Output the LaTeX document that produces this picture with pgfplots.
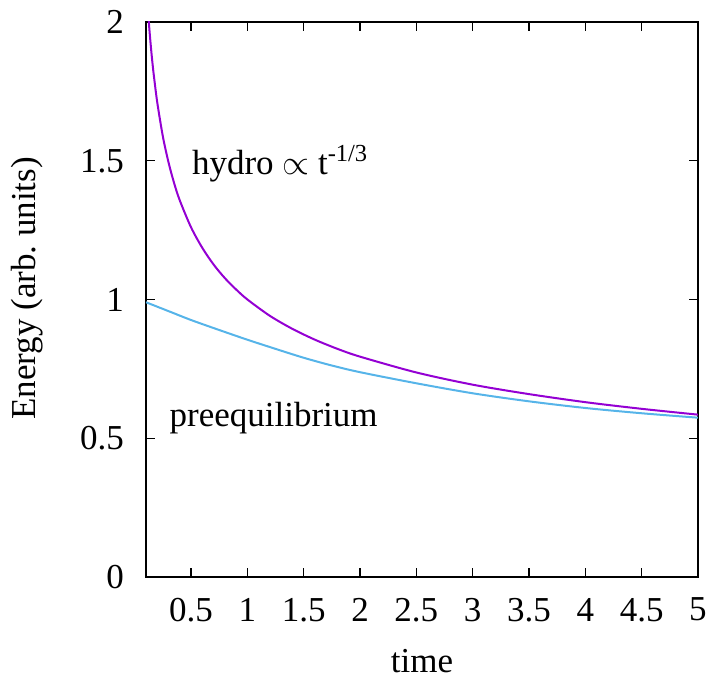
\documentclass[border=0pt]{standalone}
\usepackage{fontspec}
\setmainfont{Liberation Serif}
\usepackage{pgfplots}
\pgfplotsset{compat=1.18}
\definecolor{hydro}{RGB}{148,0,211}
\definecolor{pre}{RGB}{86,180,233}
\begin{document}
\fontsize{17.5}{21}\selectfont
\begin{tikzpicture}
\begin{axis}[
  scale only axis, width=276pt, height=277.5pt,
  xmin=0.1, xmax=5, ymin=0, ymax=2,
  xtick={0.5,1,...,5}, ytick={0,0.5,...,2},
  /pgf/number format/assume math mode=true,
  tick label style={font=\fontsize{17.5}{21}\selectfont},
  label style={font=\fontsize{17.5}{21}\selectfont},
  tick align=inside, major tick length=4.5pt,
  tick style={black, line width=0.6pt},
  axis line style={black, line width=0.7pt},
  xticklabel style={yshift=-4.5pt},
  yticklabel style={xshift=-5pt},
  xlabel={time},
  ylabel={Energy (arb.\ units)},
  xlabel style={at={(axis description cs:0.5,0)}, anchor=center, yshift=-42pt},
  ylabel style={at={(axis description cs:-0.215,0.52)}, anchor=center},
  clip=true,
]
\addplot[hydro, line width=1pt, smooth] coordinates {
(0.1,2.154) (0.11,2.088) (0.12,2.027) (0.13,1.974) (0.14,1.926) (0.15,1.882) (0.16,1.842)
(0.17,1.806) (0.2,1.710) (0.25,1.587) (0.3,1.494) (0.35,1.419) (0.4,1.357) (0.5,1.260)
(0.6,1.186) (0.7,1.126) (0.8,1.077) (0.9,1.036) (1.0,1.000) (1.2,0.941) (1.4,0.894)
(1.6,0.855) (1.8,0.822) (2.0,0.794) (2.5,0.737) (3.0,0.693) (3.5,0.659) (4.0,0.630)
(4.5,0.606) (5.0,0.585)
};
\addplot[pre, line width=1pt, smooth] coordinates {
(0.1,0.990) (0.3,0.958) (0.5,0.926) (0.75,0.890) (1.0,0.855) (1.25,0.822) (1.5,0.790)
(1.75,0.762) (2.0,0.738) (2.5,0.698) (3.0,0.662) (3.5,0.633) (4.0,0.609) (4.5,0.590)
(5.0,0.574)
};
\node[anchor=base west, inner sep=0pt] at (axis cs:0.505,1.452) {hydro $\propto$ t\textsuperscript{-1/3}};
\node[anchor=base west, inner sep=0pt] at (axis cs:0.306,0.542) {preequilibrium};
\end{axis}
\pgfresetboundingbox
\path ([xshift=-73pt,yshift=-50pt]current axis.south west) rectangle ([xshift=8pt,yshift=11pt]current axis.north east);
\end{tikzpicture}
\end{document}
